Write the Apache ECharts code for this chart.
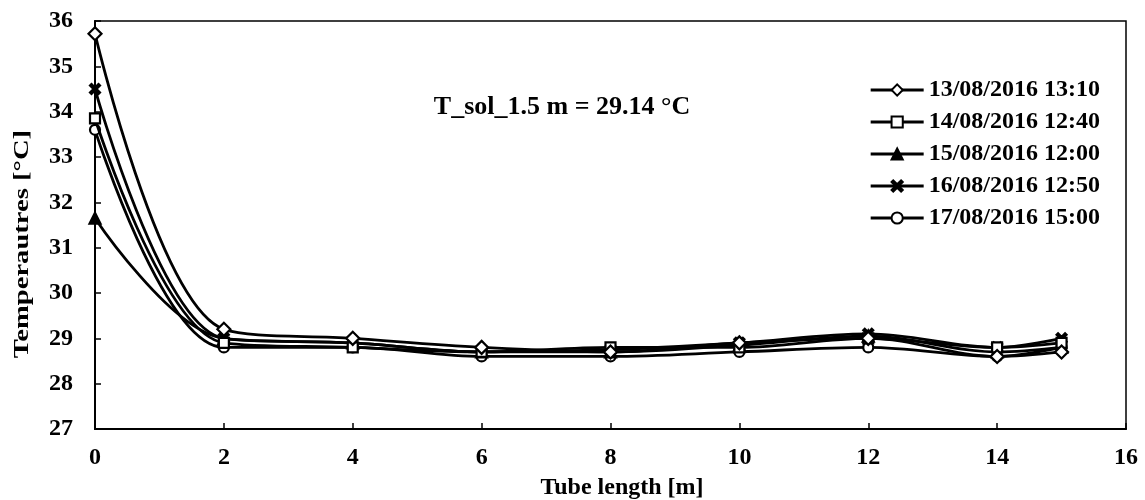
<!DOCTYPE html>
<html><head><meta charset="utf-8">
<script src="https://cdn.jsdelivr.net/npm/echarts@6/dist/echarts.min.js"></script>
<style>html,body{margin:0;padding:0;background:#fff}#c{width:1145px;height:500px}</style>
</head><body><div id="c"></div>
<script>
const xs = [0, 2, 4, 6, 8, 10, 12, 14, 15];
const names = ['13/08/2016 13:10','14/08/2016 12:40','15/08/2016 12:00','16/08/2016 12:50','17/08/2016 15:00'];
const s1 = [35.72, 29.2, 29.0, 28.8, 28.7, 28.9, 29.0, 28.6, 28.7];
const s2 = [33.85, 28.9, 28.8, 28.7, 28.8, 28.8, 29.0, 28.8, 28.9];
const s3 = [31.65, 29.0, 28.9, 28.7, 28.7, 28.85, 29.05, 28.7, 28.8];
const s4 = [34.5, 29.0, 28.9, 28.7, 28.75, 28.9, 29.1, 28.8, 29.0];
const s5 = [33.6, 28.8, 28.8, 28.6, 28.6, 28.7, 28.8, 28.6, 28.8];
const annotation = 'T_sol_1.5 m = 29.14 °C';
const xName = 'Tube length [m]';
const yName = 'Temperautres [°C]';

const crossPath = 'path://M0,1.5 L1.5,0 L5,3.5 L8.5,0 L10,1.5 L6.5,5 L10,8.5 L8.5,10 L5,6.5 L1.5,10 L0,8.5 L3.5,5 Z';
const symbols = ['diamond','rect','triangle',crossPath,'circle'];
const symSizes = [13, 10, 11, 10, 10];
const fills = ['#fff','#fff','#000','#000','#fff'];
const data = [s1,s2,s3,s4,s5];
const font = 'Liberation Serif';

const series = data.map((d,i)=>({
  name: names[i], type:'line', smooth: 0.35,
  data: d.map((v,j)=>[xs[j], v]),
  symbol: symbols[i], symbolSize: symSizes[i],
  lineStyle:{color:'#000', width:2.8},
  itemStyle:{color: fills[i], borderColor:'#000', borderWidth:2.2},
  z: 5-i
}));

const chart = echarts.init(document.getElementById('c'));
chart.setOption({
  animation:false,
  backgroundColor:'#fff',
  grid:{left:95, right:19, top:21, bottom:71, show:true, borderColor:'#000', borderWidth:1.5},
  legend:{
    orient:'vertical', right:40, top:73, itemGap:8, itemWidth:53, itemHeight:14,
    lineStyle:{width:2.8},
    textStyle:{fontFamily:font, fontWeight:'bold', fontSize:24, color:'#000'},
    data: names
  },
  xAxis:{
    type:'value', min:0, max:16, interval:2,
    axisLine:{show:true, onZero:false, lineStyle:{color:'#000', width:2}},
    axisTick:{show:true, inside:true, length:6, lineStyle:{color:'#000', width:1.5}},
    axisLabel:{fontFamily:font, fontWeight:'bold', fontSize:24, color:'#000', margin:17},
    splitLine:{show:false}
  },
  yAxis:{
    type:'value', min:27, max:36, interval:1,
    axisLine:{show:true, lineStyle:{color:'#000', width:2}},
    axisTick:{show:true, inside:true, length:6, lineStyle:{color:'#000', width:1.5}},
    axisLabel:{fontFamily:font, fontWeight:'bold', fontSize:24, color:'#000', margin:22},
    splitLine:{show:false}
  },
  graphic:[
    {type:'text', x:562, y:107,
      style:{text:annotation, fontFamily:font, fontWeight:'bold', fontSize:26, fill:'#000', align:'center', verticalAlign:'middle'}},
    {type:'text', x:622, y:488,
      style:{text:xName, fontFamily:font, fontWeight:'bold', fontSize:24, fill:'#000', align:'center', verticalAlign:'middle'}},
    {type:'text', x:22, y:244, rotation:Math.PI/2, scaleX:1.3,
      style:{text:yName, fontFamily:font, fontWeight:'bold', fontSize:22, fill:'#000', align:'center', verticalAlign:'middle'}}
  ],
  series: series
});
</script></body></html>
